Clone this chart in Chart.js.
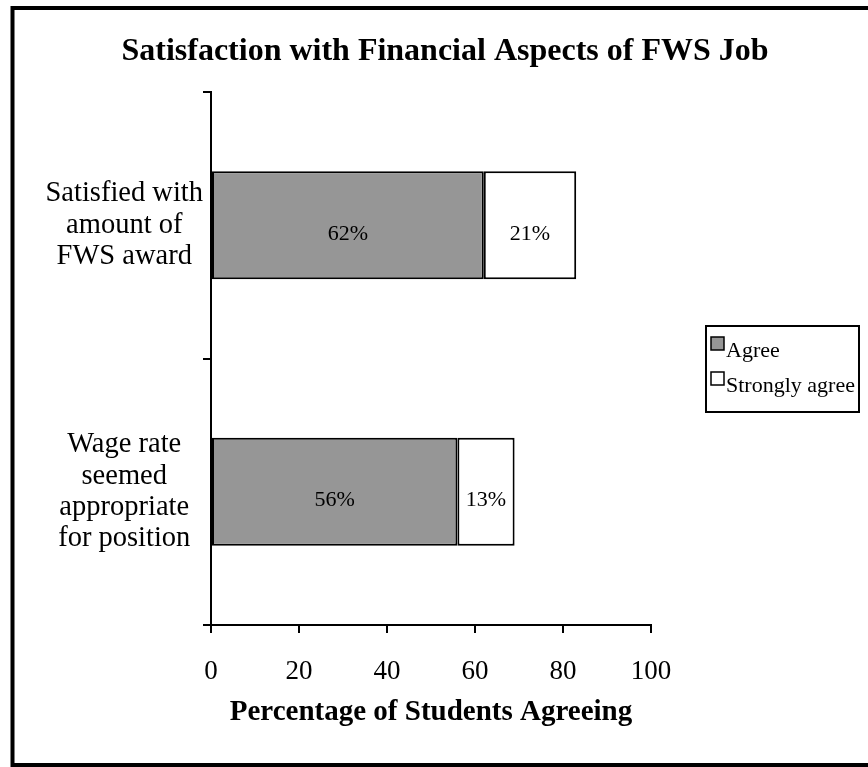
<!DOCTYPE html>
<html>
<head>
<meta charset="utf-8">
<script src="https://cdn.jsdelivr.net/npm/chart.js@4.4.0/dist/chart.umd.min.js"></script>
<style>
  html, body { margin: 0; padding: 0; background: #ffffff; }
  #wrap { width: 868px; height: 767px; }
</style>
</head>
<body>
<div id="wrap"><canvas id="chart" width="868" height="767"></canvas></div>
<script>
const canvas = document.getElementById("chart");

// categories (multi-line labels), top to bottom
const categories = [
    ["Satisfied with", "amount of", "FWS award"],
    ["Wage rate", "seemed", "appropriate", "for position"],
];
// percent of students
const agreeValues = [62, 56];
const stronglyAgreeValues = [21, 13];
const seriesNames = ["Agree", "Strongly agree"];
const seriesColors = ["#969696", "#ffffff"];
const xTicks = [0, 20, 40, 60, 80, 100];

const serif = "'Liberation Serif', 'Times New Roman', Times, serif";

//outer frame around the picture
const framePlugin = {
    id: "frame",
    beforeDraw(chart) {
        const ctx = chart.ctx;
        ctx.save();
        ctx.fillStyle = "#ffffff";
        ctx.fillRect(0, 0, chart.width, chart.height);
        ctx.strokeStyle = "#000000";
        ctx.lineWidth = 4;
        ctx.strokeRect(12.5, 8, 900, 757);
        ctx.restore();
    },
};

//percent labels inside each bar piece
const barLabelPlugin = {
    id: "barLabels",
    afterDatasetsDraw(chart) {
        const ctx = chart.ctx;
        ctx.save();
        ctx.font = "22px " + serif;
        ctx.fillStyle = "#000000";
        ctx.textAlign = "center";
        ctx.textBaseline = "alphabetic";
        chart.data.datasets.forEach((ds, i) => {
            chart.getDatasetMeta(i).data.forEach((bar, j) => {
                const p = bar.getCenterPoint();
                ctx.fillText(ds.data[j] + "%", p.x, p.y + 14.5);
            });
        });
        ctx.restore();
    },
};

//boxed legend on the right
const boxLegendPlugin = {
    id: "boxLegend",
    afterDraw(chart) {
        const ctx = chart.ctx;
        const left = 706, top = 326, w = 153, h = 86;
        ctx.save();
        ctx.strokeStyle = "#000000";
        ctx.lineWidth = 2;
        ctx.strokeRect(left, top, w, h);
        ctx.font = "22px " + serif;
        ctx.textAlign = "left";
        ctx.textBaseline = "alphabetic";
        chart.data.datasets.forEach((ds, i) => {
            const base = 357 + i * 35;
            ctx.fillStyle = ds.backgroundColor;
            ctx.fillRect(711, base - 20, 13, 13);
            ctx.lineWidth = 1.5;
            ctx.strokeRect(711, base - 20, 13, 13);
            ctx.fillStyle = "#000000";
            ctx.fillText(ds.label, 726, base);
        });
        ctx.restore();
    },
};

let myChart = new Chart(canvas, {
    type: "bar",
    plugins: [framePlugin, barLabelPlugin, boxLegendPlugin],
    data: {
        labels: categories,
        datasets: [
            {
                label: seriesNames[0],
                data: agreeValues,
                backgroundColor: seriesColors[0],
                borderColor: "#000000",
                borderWidth: 2,
                borderSkipped: false,
                categoryPercentage: 1,
                barPercentage: 0.405,
            },
            {
                label: seriesNames[1],
                data: stronglyAgreeValues,
                backgroundColor: seriesColors[1],
                borderColor: "#000000",
                borderWidth: 2,
                borderSkipped: false,
                categoryPercentage: 1,
                barPercentage: 0.405,
            },
        ],
    },
    options: {
        indexAxis: "y",
        responsive: false,
        animation: false,
        layout: {
            padding: { top: 20, bottom: 36.6, left: 22, right: 0 },
        },
        plugins: {
            legend: { display: false },
            tooltip: { enabled: false },
            title: {
                display: true,
                text: "Satisfaction with Financial Aspects of FWS Job",
                color: "#000000",
                font: { family: serif, size: 32, weight: "bold", lineHeight: 1.2 },
                padding: { top: 13, bottom: 20.6 },
            },
        },
        scales: {
            x: {
                stacked: true,
                min: 0,
                max: 100,
                afterBuildTicks: (scale) => {
                    scale.ticks = xTicks.map((v) => ({ value: v }));
                },
                afterFit: (scale) => {
                    scale.height = 105.4;
                },
                grid: {
                    drawOnChartArea: false,
                    drawTicks: true,
                    tickLength: 8,
                    color: "#000000",
                    lineWidth: 2,
                },
                border: { display: true, color: "#000000", width: 2 },
                ticks: {
                    color: "#000000",
                    padding: 23,
                    maxRotation: 0,
                    font: { family: serif, size: 27, lineHeight: 1.2 },
                },
                title: {
                    display: true,
                    text: "Percentage of Students Agreeing",
                    color: "#000000",
                    font: { family: serif, size: 29, weight: "bold", lineHeight: 1.2 },
                    padding: { top: 10, bottom: 0 },
                },
            },
            y: {
                stacked: true,
                afterFit: (scale) => {
                    scale.width = 189;
                },
                grid: {
                    drawOnChartArea: false,
                    drawTicks: true,
                    tickLength: 8,
                    color: "#000000",
                    lineWidth: 2,
                },
                border: { display: true, color: "#000000", width: 2 },
                ticks: {
                    color: "#000000",
                    padding: 0,
                    crossAlign: "center",
                    font: { family: serif, size: 28.5, lineHeight: 1.1 },
                },
            },
            // empty right-hand axis: keeps the space where the legend sits
            yRight: {
                type: "category",
                position: "right",
                display: true,
                afterFit: (scale) => {
                    scale.width = 217;
                },
                grid: { display: false },
                border: { display: false },
                ticks: { display: false },
            },
        },
    },
});
</script>
</body>
</html>
